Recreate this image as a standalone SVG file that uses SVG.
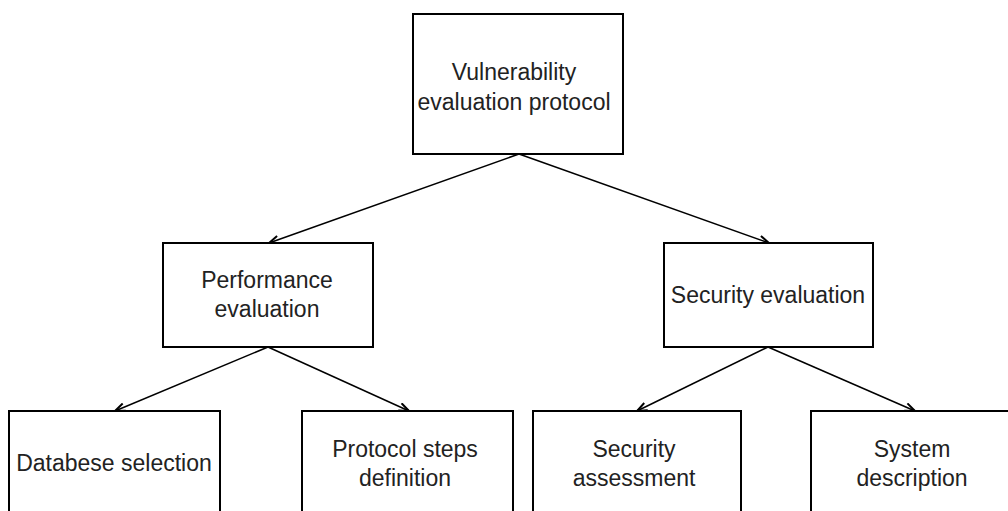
<svg xmlns="http://www.w3.org/2000/svg" width="1008" height="511" viewBox="0 0 1008 511">
  <style>
    .box { fill: #ffffff; stroke: #000000; stroke-width: 2; }
    .label { font-family: "Liberation Sans", Arial, sans-serif; font-size: 23px; fill: #222222; text-anchor: middle; }
    .edge { fill: none; stroke: #000000; stroke-width: 1.5; marker-end: url(#open-arrow); }
  </style>
  <defs>
    <marker id="open-arrow" viewBox="0 0 12 10" refX="11" refY="5" markerWidth="12" markerHeight="10" markerUnits="userSpaceOnUse" orient="auto">
      <path d="M1,1 L11,5 L1,9" fill="none" stroke="#000000" stroke-width="2"/>
    </marker>
  </defs>
  <rect width="1008" height="511" fill="#ffffff"/>

  <g id="connectors">
    <line class="edge" x1="519" y1="154" x2="269" y2="243"/>
    <line class="edge" x1="519" y1="154" x2="769" y2="243"/>
    <line class="edge" x1="268" y1="347" x2="115" y2="411"/>
    <line class="edge" x1="268" y1="347" x2="409" y2="411"/>
    <line class="edge" x1="768" y1="347" x2="637" y2="411"/>
    <line class="edge" x1="768" y1="347" x2="915" y2="411"/>
  </g>

  <g id="vulnerability-evaluation-protocol">
    <rect class="box" x="413" y="14" width="210" height="140"/>
    <text class="label" x="514" y="80">Vulnerability</text>
    <text class="label" x="514" y="110">evaluation protocol</text>
  </g>

  <g id="performance-evaluation">
    <rect class="box" x="163" y="243" width="210" height="104"/>
    <text class="label" x="267" y="288">Performance</text>
    <text class="label" x="267" y="317">evaluation</text>
  </g>

  <g id="security-evaluation">
    <rect class="box" x="664" y="243" width="209" height="104"/>
    <text class="label" x="768" y="303">Security evaluation</text>
  </g>

  <g id="database-selection">
    <rect class="box" x="9" y="411" width="211" height="110"/>
    <text class="label" x="114" y="471">Databese selection</text>
  </g>

  <g id="protocol-steps-definition">
    <rect class="box" x="302" y="411" width="211" height="110"/>
    <text class="label" x="405" y="457">Protocol steps</text>
    <text class="label" x="405" y="486">definition</text>
  </g>

  <g id="security-assessment">
    <rect class="box" x="533" y="411" width="208" height="110"/>
    <text class="label" x="634" y="457">Security</text>
    <text class="label" x="634" y="486">assessment</text>
  </g>

  <g id="system-description">
    <rect class="box" x="811" y="411" width="210" height="110"/>
    <text class="label" x="912" y="457">System</text>
    <text class="label" x="912" y="486">description</text>
  </g>
</svg>
